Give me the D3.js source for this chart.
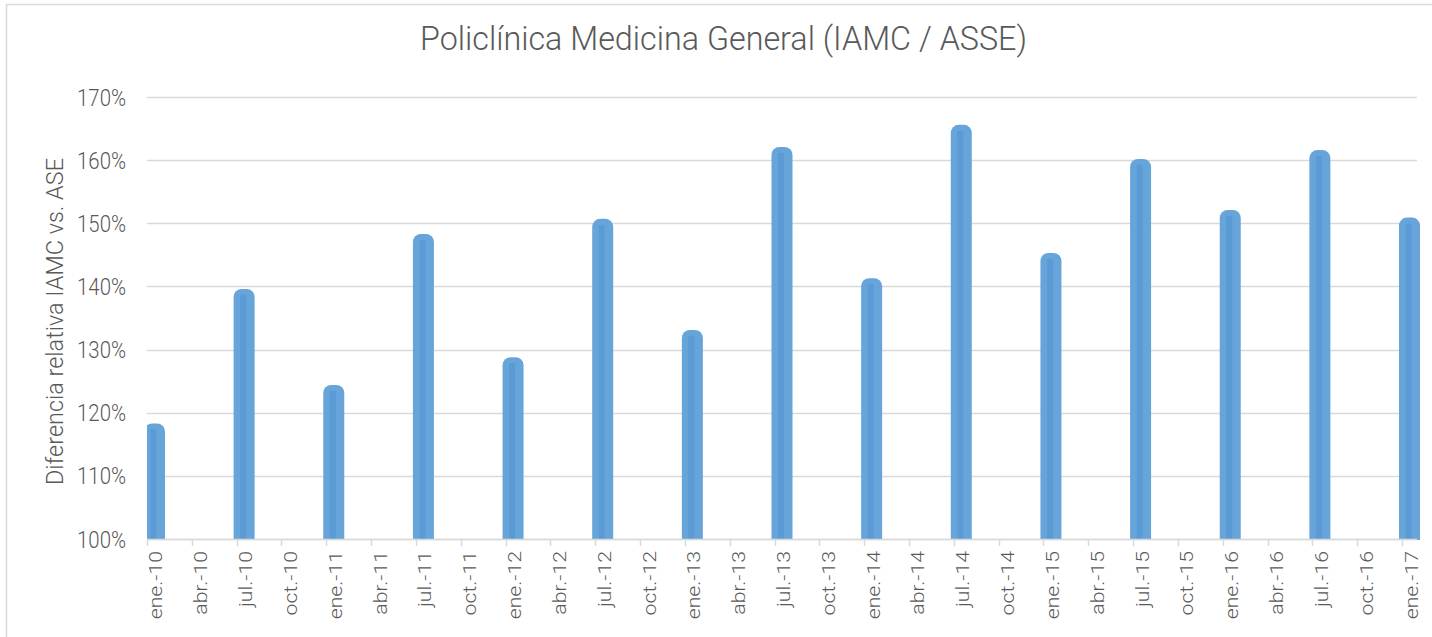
<!DOCTYPE html>
<html>
<head>
<meta charset="utf-8">
<title>Policlínica Medicina General</title>
<script src="https://cdn.jsdelivr.net/npm/d3@7"></script>
<style>
	body { margin: 0; background: #fff; }
	text { font-family: Roboto, "Liberation Sans", sans-serif; font-weight: 300; fill: #595959; }
</style>
</head>
<body>
<script>
// month names and years used for the (monthly) date axis
var monthNames = ['ene.', 'feb.', 'mar.', 'abr.', 'may.', 'jun.',
	'jul.', 'ago.', 'sept.', 'oct.', 'nov.', 'dic.'];
var years = ['10', '11', '12', '13', '14', '15', '16', '17'];

// months that carry a bar, and their values
var barMonths = ['ene.-10', 'jul.-10', 'ene.-11', 'jul.-11', 'ene.-12', 'jul.-12',
	'ene.-13', 'jul.-13', 'ene.-14', 'jul.-14', 'ene.-15', 'jul.-15',
	'ene.-16', 'jul.-16', 'ene.-17'];
var barValues = [1.183, 1.396, 1.244, 1.483, 1.288, 1.507,
	1.331, 1.621, 1.413, 1.656, 1.453, 1.602,
	1.521, 1.616, 1.509];

// y ticks
var yTicks = [1.0, 1.1, 1.2, 1.3, 1.4, 1.5, 1.6, 1.7];

var title = 'Policlínica Medicina General (IAMC / ASSE)';
var yTitle = 'Diferencia relativa IAMC vs. ASE';

window.onload = function() {
	var W = 1432, H = 637;
	var plot = {left: 147, right: 1417, top: 97, bottom: 539};
	var stretch = 1.18;

	// full list of months ene.-10 ... ene.-17
	var months = [];
	years.forEach(function(y, yi) {
		monthNames.forEach(function(m) {
			if (yi < years.length - 1 || m === 'ene.') months.push(m + '-' + y);
		});
	});

	var x = d3.scaleBand()
		.domain(months)
		.range([plot.left, plot.right])
		.padding(0);

	var y = d3.scaleLinear()
		.domain([1.0, 1.7])
		.range([plot.bottom, plot.top]);

	var svg = d3.select('body').append('svg')
		.attr('width', W)
		.attr('height', H);

	// outer frame (runs off the right and bottom edge)
	svg.append('rect')
		.attr('x', 6.5)
		.attr('y', 4.5)
		.attr('width', W + 20)
		.attr('height', H + 20)
		.style('fill', 'none')
		.style('stroke', '#d9d9d9')
		.style('stroke-width', 1.5);

	// title
	svg.append('text')
		.attr('transform', 'translate(723.5,49.5) scale(1,' + stretch + ')')
		.attr('text-anchor', 'middle')
		.attr('textLength', 607)
		.attr('lengthAdjust', 'spacingAndGlyphs')
		.style('font-size', '28.5px')
		.text(title);

	// gridlines
	svg.append('g').selectAll('line')
		.data(yTicks)
	.enter().append('line')
		.attr('x1', plot.left)
		.attr('x2', plot.right)
		.attr('y1', function(d) { return Math.round(y(d)) + 0.5; })
		.attr('y2', function(d) { return Math.round(y(d)) + 0.5; })
		.style('stroke', '#d9d9d9')
		.style('stroke-width', 1.5);

	// y tick labels
	svg.append('g').selectAll('text')
		.data(yTicks)
	.enter().append('text')
		.attr('transform', function(d) {
			return 'translate(126,' + (y(d) + 8.5) + ') scale(1,' + stretch + ')';
		})
		.attr('text-anchor', 'end')
		.attr('textLength', 49)
		.attr('lengthAdjust', 'spacingAndGlyphs')
		.style('font-size', '20px')
		.text(function(d) { return Math.round(d * 100) + '%'; });

	// y axis title
	svg.append('text')
		.attr('transform', 'translate(62.5,321.5) rotate(-90)')
		.attr('text-anchor', 'middle')
		.attr('textLength', 327)
		.attr('lengthAdjust', 'spacingAndGlyphs')
		.style('font-size', '23px')
		.text(yTitle);

	// bars, clipped at the axis so only the top is rounded
	svg.append('clipPath')
		.attr('id', 'plotclip')
	.append('rect')
		.attr('x', plot.left)
		.attr('y', 0)
		.attr('width', W - plot.left)
		.attr('height', plot.bottom + 1);

	var bw = 21;
	var bars = svg.append('g')
		.attr('clip-path', 'url(#plotclip)');

	bars.selectAll('.bar')
		.data(barMonths)
	.enter().append('rect')
		.attr('class', 'bar')
		.attr('x', function(d) { return x(d) + x.bandwidth() / 2 - bw / 2; })
		.attr('y', function(d, i) { return y(barValues[i]); })
		.attr('width', bw)
		.attr('height', function(d, i) { return plot.bottom - y(barValues[i]) + 12; })
		.attr('rx', 8)
		.style('fill', '#66a4da');

	// slightly darker inner stripe
	bars.selectAll('.stripe')
		.data(barMonths)
	.enter().append('rect')
		.attr('class', 'stripe')
		.attr('x', function(d) { return x(d) + x.bandwidth() / 2 - 4; })
		.attr('y', function(d, i) { return y(barValues[i]) + 6; })
		.attr('width', 6)
		.attr('height', function(d, i) { return plot.bottom - y(barValues[i]); })
		.style('fill', '#5b9bd5');

	// base axis line
	svg.append('line')
		.attr('x1', plot.left)
		.attr('x2', plot.right)
		.attr('y1', plot.bottom + 0.5)
		.attr('y2', plot.bottom + 0.5)
		.style('stroke', '#d9d9d9')
		.style('stroke-width', 1.5);

	// x ticks and labels every 3 months
	var tickMonths = months.filter(function(d, i) { return i % 3 === 0; });

	svg.append('g').selectAll('line')
		.data(tickMonths)
	.enter().append('line')
		.attr('x1', function(d) { return Math.round(x(d)) + 0.5; })
		.attr('x2', function(d) { return Math.round(x(d)) + 0.5; })
		.attr('y1', plot.bottom)
		.attr('y2', plot.bottom + 7)
		.style('stroke', '#d9d9d9')
		.style('stroke-width', 1.5);

	svg.append('g').selectAll('text')
		.data(tickMonths)
	.enter().append('text')
		.attr('transform', function(d) {
			return 'translate(' + (x(d) + x.bandwidth() / 2 + 8) + ',551) scale(1,' +
				stretch + ') rotate(-90)';
		})
		.attr('text-anchor', 'end')
		.style('font-size', '18px')
		.text(function(d) { return d; });
};
</script>
</body>
</html>
